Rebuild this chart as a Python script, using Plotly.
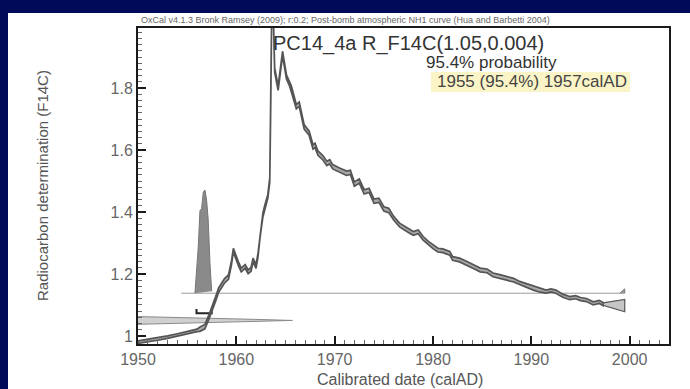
import plotly.graph_objects as go

# ---------------- data ----------------
# calibration curve (NH1 post-bomb), centre value and 1-sigma half width
curve_year = [1950.0, 1951.0, 1952.0, 1953.0, 1954.0, 1955.0, 1956.0, 1956.3, 1956.8, 1957.2,
              1957.5, 1957.9, 1958.2, 1958.5, 1958.8, 1959.2, 1959.5, 1959.7, 1960.0, 1960.2,
              1960.5, 1960.9, 1961.2, 1961.5, 1961.7, 1962.0, 1962.2, 1962.4, 1962.7, 1962.9,
              1963.2, 1963.4, 1963.5, 1963.6, 1963.75, 1963.9, 1964.25, 1964.7, 1965.1, 1965.4,
              1965.6, 1966.1, 1966.4, 1966.6, 1966.9, 1967.4, 1967.8, 1968.0, 1968.3, 1968.8,
              1969.2, 1969.5, 1969.8, 1970.5, 1971.2, 1971.6, 1972.0, 1972.5, 1973.0, 1973.5,
              1974.0, 1974.5, 1975.0, 1975.5, 1976.0, 1976.6, 1977.0, 1977.5, 1978.0, 1978.5,
              1979.0, 1979.5, 1980.0, 1980.5, 1981.0, 1981.7, 1982.0, 1982.7, 1983.4, 1984.0,
              1984.8, 1985.5, 1986.1, 1986.8, 1987.5, 1988.2, 1988.8, 1989.5, 1990.2, 1990.8,
              1991.5, 1992.0, 1992.5, 1993.2, 1993.9, 1994.5, 1995.0, 1995.6, 1996.3, 1996.9,
              1997.3]
curve_f14c = [0.980, 0.985, 0.990, 0.996, 1.003, 1.010, 1.018, 1.022, 1.030, 1.060,
              1.084, 1.120, 1.148, 1.165, 1.178, 1.190, 1.235, 1.277, 1.250, 1.234,
              1.213, 1.224, 1.207, 1.215, 1.245, 1.224, 1.260, 1.320, 1.390, 1.417,
              1.450, 1.503, 1.750, 2.050, 2.050, 1.858, 1.800, 1.912, 1.836, 1.815,
              1.800, 1.740, 1.748, 1.718, 1.675, 1.655, 1.610, 1.615, 1.590, 1.575,
              1.557, 1.562, 1.546, 1.535, 1.525, 1.528, 1.490, 1.500, 1.465, 1.470,
              1.435, 1.438, 1.410, 1.405, 1.380, 1.358, 1.350, 1.340, 1.331, 1.336,
              1.315, 1.300, 1.288, 1.277, 1.275, 1.267, 1.250, 1.245, 1.235, 1.225,
              1.213, 1.210, 1.197, 1.192, 1.186, 1.180, 1.170, 1.163, 1.154, 1.148,
              1.143, 1.147, 1.143, 1.130, 1.122, 1.125, 1.119, 1.116, 1.105, 1.110,
              1.103]
curve_sigma = ([0.004] * 7 + [0.007] * 9 + [0.006] * 15 + [0.007] * 33 + [0.006] * 26
               + [0.005] * 11)

# extrapolated end of curve (triangle)
tail_year = [1997.3, 1999.5, 1999.5, 1997.3]
tail_f14c = [1.107, 1.118, 1.078, 1.099]

# measurement R_F14C(1.05, 0.004), drawn sideways on the y axis
meas_f14c = [1.0375, 1.0405, 1.0435, 1.0465, 1.050, 1.0535, 1.0565, 1.0595, 1.0625]
meas_prob = [0.00, 0.24, 0.50, 0.76, 1.00, 0.76, 0.50, 0.24, 0.00]

# calibrated date probability
cal_year = [1955.79, 1956.13, 1956.30, 1956.47, 1956.64, 1956.81, 1956.98, 1957.14, 1957.32, 1957.49]
cal_prob = [0.00, 0.45, 0.80, 0.82, 0.98, 1.00, 0.90, 0.71, 0.29, 0.02]
cal_year2 = [1999.0, 1999.35, 1999.5, 1999.5]
cal_prob2 = [0.00, 0.036, 0.042, 0.00]
cal_base = 1.138
cal_base_span = [1954.4, 1999.5]

# 95.4% range
range_start, range_end = 1955.95, 1957.5

x_ticks = [1950, 1960, 1970, 1980, 1990, 2000]

# ---------------- layout helpers ----------------
W, H = 690, 389
L, R, T, B = 138, 669, 28, 344


def px(x):
    return (x - L) / (R - L)


def py(y):
    return (B - y) / (B - T)


FONT = "Liberation Sans, Arial, sans-serif"
CURVE_LINE = "#555555"

fig = go.Figure()

# measurement distribution on y axis
meas_x_extent = 15.7
mx = [1950 + p * meas_x_extent for p in meas_prob]
fig.add_trace(go.Scatter(x=mx, y=meas_f14c, mode="lines", fill="toself",
                         fillcolor="#d0d0d0", line=dict(color="#8a8a8a", width=1),
                         hoverinfo="skip", showlegend=False))

# calibrated baseline
fig.add_trace(go.Scatter(x=cal_base_span, y=[cal_base, cal_base], mode="lines",
                         line=dict(color="#9a9a9a", width=1), hoverinfo="skip", showlegend=False))

# calibrated distribution
cal_height = 0.333
fig.add_trace(go.Scatter(x=cal_year, y=[cal_base + p * cal_height for p in cal_prob],
                         mode="lines", fill="toself", fillcolor="#8a8a8a",
                         line=dict(color="#777777", width=1), hoverinfo="skip", showlegend=False))
fig.add_trace(go.Scatter(x=cal_year2, y=[cal_base + p * cal_height for p in cal_prob2],
                         mode="lines", fill="toself", fillcolor="#9a9a9a",
                         line=dict(color="#777777", width=1), hoverinfo="skip", showlegend=False))

# range bracket
fig.add_trace(go.Scatter(x=[range_start, range_start, range_end, range_end],
                         y=[1.087, 1.073, 1.073, 1.080], mode="lines",
                         line=dict(color="#222222", width=2), hoverinfo="skip", showlegend=False))

# calibration curve band
hi = [c + s for c, s in zip(curve_f14c, curve_sigma)]
lo = [c - s for c, s in zip(curve_f14c, curve_sigma)]
fig.add_trace(go.Scatter(x=curve_year + curve_year[::-1] + [curve_year[0]],
                         y=hi + lo[::-1] + [hi[0]], mode="lines", fill="toself",
                         fillcolor="#a8a8a8", line=dict(color=CURVE_LINE, width=1.7),
                         hoverinfo="skip", showlegend=False))

# tail triangle
fig.add_trace(go.Scatter(x=tail_year + [tail_year[0]], y=tail_f14c + [tail_f14c[0]],
                         mode="lines", fill="toself", fillcolor="#c6c6c6",
                         line=dict(color=CURVE_LINE, width=1.2), hoverinfo="skip", showlegend=False))

# ---------------- axes ----------------
axis_common = dict(showgrid=False, zeroline=False, showline=True, linecolor="#1a1a1a",
                   linewidth=2, mirror=True, ticks="inside", ticklen=8, tickwidth=2,
                   tickcolor="#1a1a1a", tickfont=dict(family=FONT, size=16, color="#666666"))

fig.update_xaxes(range=[1950, 2004], tickmode="array", tickvals=x_ticks,
                 minor=dict(ticks="inside", dtick=1, tick0=1950, ticklen=4, tickwidth=1,
                            tickcolor="#666666", showgrid=False),
                 **axis_common)
fig.update_yaxes(range=[0.974, 1.994], tick0=1.0, dtick=0.2,
                 minor=dict(ticks="inside", dtick=0.02, tick0=1.0, ticklen=4, tickwidth=1,
                            tickcolor="#666666", showgrid=False),
                 **axis_common)

# ---------------- shapes & annotations ----------------
shapes = [
    dict(type="rect", xref="paper", yref="paper", x0=px(8), x1=px(690), y0=py(389), y1=py(13),
         fillcolor="white", line=dict(width=0), layer="below"),
    dict(type="rect", xref="paper", yref="paper", x0=px(431), x1=px(630), y0=py(92), y1=py(72),
         fillcolor="#fbf4c6", line=dict(width=0), layer="below"),
]

annotations = [
    dict(text="OxCal v4.1.3 Bronk Ramsey (2009); r:0.2; Post-bomb atmospheric NH1 curve (Hua and Barbetti 2004)",
         x=px(345), y=py(20), font=dict(size=9, color="#666666")),
    dict(text="PC14_4a R_F14C(1.05,0.004)", x=px(408), y=py(43), font=dict(size=20, color="#333333")),
    dict(text="95.4% probability", x=px(491), y=py(62), font=dict(size=17, color="#333333")),
    dict(text="1955 (95.4%) 1957calAD", x=px(532), y=py(81), font=dict(size=17, color="#444444")),
    dict(text="Calibrated date (calAD)", x=px(400), y=py(379), font=dict(size=16, color="#555555")),
    dict(text="Radiocarbon determination (F14C)", x=px(42), y=py(186), textangle=-90,
         font=dict(size=15, color="#555555")),
]
for a in annotations:
    a.update(xref="paper", yref="paper", showarrow=False, xanchor="center", yanchor="middle")
    a["font"]["family"] = FONT

fig.update_layout(
    width=W, height=H,
    margin=dict(l=L, r=W - R, t=T, b=H - B, pad=0),
    paper_bgcolor="#000a58", plot_bgcolor="rgba(0,0,0,0)",
    shapes=shapes, annotations=annotations, showlegend=False,
    font=dict(family=FONT),
)

fig.write_html("out.html")
